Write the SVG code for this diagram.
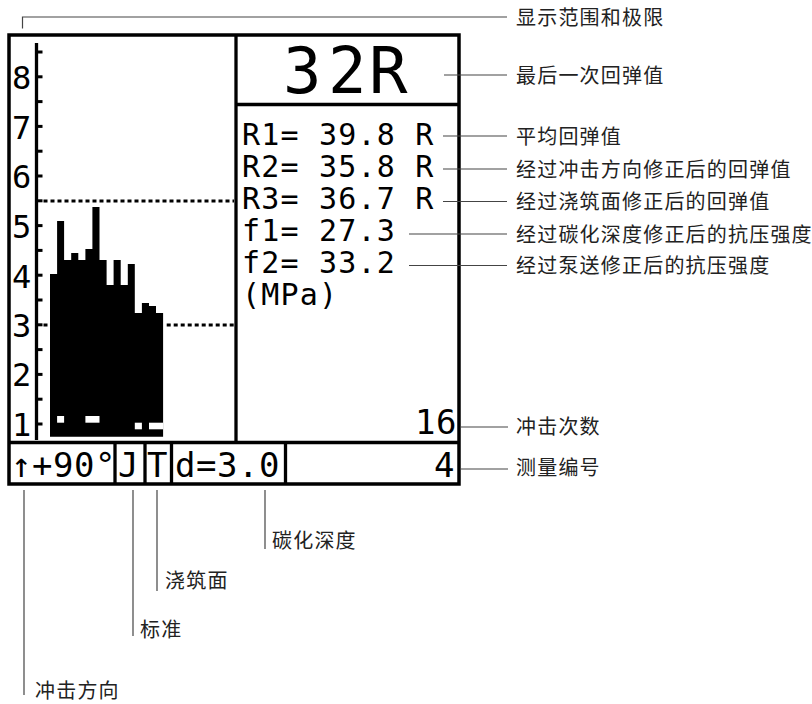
<svg xmlns="http://www.w3.org/2000/svg" width="812" height="704" viewBox="0 0 812 704">
<style>
.frame{fill:none;stroke:#000;stroke-width:3.5}
.ln{stroke:#000;stroke-width:3.3;fill:none}
.tick{fill:#000}
.dot{stroke:#000;stroke-width:3;stroke-dasharray:4 3;fill:none}
.lcd{font-family:"DejaVu Sans Mono","Liberation Mono",monospace;fill:#000}
.s{font-size:30px;letter-spacing:1.2px}
.m{font-size:34px;letter-spacing:0.5px}
.ax{font-size:32px}
.big{font-size:64px}
.lbl{font-family:"Liberation Serif","Noto Sans CJK SC",sans-serif;font-size:20px;letter-spacing:1.2px;fill:#222}
.conn{stroke:#444;stroke-width:1.2;fill:none}
</style>
<rect width="812" height="704" fill="#fff"/>

<g id="display">
  <rect class="frame" x="9" y="35" width="450" height="449"/>
  <line class="ln" x1="236" y1="35" x2="236" y2="442.5"/>
  <line class="ln" x1="236" y1="104.5" x2="459" y2="104.5"/>
  <line class="ln" x1="9" y1="442.5" x2="459" y2="442.5"/>
  <line class="ln" x1="115" y1="442.5" x2="115" y2="484"/>
  <line class="ln" x1="145" y1="442.5" x2="145" y2="484"/>
  <line class="ln" x1="171.5" y1="442.5" x2="171.5" y2="484"/>
  <line class="ln" x1="285.5" y1="442.5" x2="285.5" y2="484"/>
</g>

<g id="histogram">
  <line class="ln" x1="36.5" y1="43" x2="36.5" y2="440"/>
  <g class="tick">
    <rect x="38" y="50.5" width="4.5" height="3"/>
    <rect x="38" y="75.3" width="4.5" height="3"/>
    <rect x="38" y="100.1" width="4.5" height="3"/>
    <rect x="38" y="124.9" width="4.5" height="3"/>
    <rect x="38" y="149.7" width="4.5" height="3"/>
    <rect x="38" y="174.5" width="4.5" height="3"/>
    <rect x="38" y="199.3" width="4.5" height="3"/>
    <rect x="38" y="224.1" width="4.5" height="3"/>
    <rect x="38" y="248.9" width="4.5" height="3"/>
    <rect x="38" y="273.7" width="4.5" height="3"/>
    <rect x="38" y="298.5" width="4.5" height="3"/>
    <rect x="38" y="323.3" width="4.5" height="3"/>
    <rect x="38" y="348.1" width="4.5" height="3"/>
    <rect x="38" y="372.9" width="4.5" height="3"/>
    <rect x="38" y="397.7" width="4.5" height="3"/>
    <rect x="38" y="422.5" width="4.5" height="3"/>
  </g>
  <g class="lcd ax">
    <text x="12" y="89">8</text>
    <text x="12" y="138.5">7</text>
    <text x="12" y="187.5">6</text>
    <text x="12" y="238">5</text>
    <text x="12" y="287.5">4</text>
    <text x="12" y="337">3</text>
    <text x="12" y="386">2</text>
    <text x="12" y="436">1</text>
  </g>
  <line class="dot" x1="43.5" y1="201" x2="234" y2="201"/>
  <line class="dot" x1="43.5" y1="325" x2="50" y2="325"/>
  <line class="dot" x1="166.7" y1="325" x2="234" y2="325"/>
  <polygon fill="#000" points="50,436.7 50,274 57.1,274 57.1,221 64.1,221 64.1,260 71.2,260 71.2,253 78.3,253 78.3,260 85.4,260 85.4,249 92.4,249 92.4,207 99.5,207 99.5,260 106.6,260 106.6,285 113.6,285 113.6,260 120.7,260 120.7,285 127.8,285 127.8,264 134.8,264 134.8,313 141.9,313 141.9,303 149,303 149,306 156,306 156,313 163.1,313 163.1,436.7"/>
  <g fill="#fff">
    <rect x="57.1" y="416" width="7" height="6.7"/>
    <rect x="85.4" y="416" width="14.1" height="6.7"/>
    <rect x="134.8" y="422.7" width="7.1" height="6.6"/>
    <rect x="149" y="422.7" width="14.1" height="6.6"/>
  </g>
</g>

<g id="readings">
  <text class="lcd big" x="283 328 369" y="93">32R</text>
  <text class="lcd s" x="242" y="145">R1= 39.8 R</text>
  <text class="lcd s" x="242" y="177">R2= 35.8 R</text>
  <text class="lcd s" x="242" y="209">R3= 36.7 R</text>
  <text class="lcd s" x="242" y="241">f1= 27.3</text>
  <text class="lcd s" x="242" y="273">f2= 33.2</text>
  <text class="lcd s" x="242" y="305">(MPa)</text>
  <text class="lcd m" x="415" y="434">16</text>
</g>

<g id="status-row">
  <text class="lcd m" x="11" y="477">↑+90°</text>
  <text class="lcd m" x="118" y="477">J</text>
  <text class="lcd m" x="147" y="477">T</text>
  <text class="lcd m" x="175" y="477">d=3.0</text>
  <text class="lcd m" x="434" y="477">4</text>
</g>

<g id="connectors">
  <polyline class="conn" points="22.5,28.5 22.5,17 507,17"/>
  <line class="conn" x1="444" y1="75" x2="507" y2="75"/>
  <line class="conn" x1="443" y1="136" x2="507" y2="136"/>
  <line class="conn" x1="443" y1="169" x2="507" y2="169"/>
  <line class="conn" x1="443" y1="201.5" x2="507" y2="201.5"/>
  <line class="conn" x1="409" y1="234" x2="507" y2="234"/>
  <line class="conn" x1="409" y1="265.5" x2="507" y2="265.5"/>
  <line class="conn" x1="461" y1="427" x2="508" y2="427"/>
  <line class="conn" x1="461" y1="469" x2="508" y2="469"/>
  <line class="conn" x1="24" y1="490" x2="24" y2="695"/>
  <line class="conn" x1="133" y1="490" x2="133" y2="636"/>
  <line class="conn" x1="157" y1="490" x2="157" y2="591"/>
  <line class="conn" x1="265" y1="490" x2="265" y2="549"/>
</g>

<g id="labels">
  <text class="lbl" x="516" y="25">显示范围和极限</text>
  <text class="lbl" x="516" y="82.5">最后一次回弹值</text>
  <text class="lbl" x="516" y="143.5">平均回弹值</text>
  <text class="lbl" x="516" y="176.5">经过冲击方向修正后的回弹值</text>
  <text class="lbl" x="516" y="209">经过浇筑面修正后的回弹值</text>
  <text class="lbl" x="516" y="241.5">经过碳化深度修正后的抗压强度</text>
  <text class="lbl" x="516" y="273">经过泵送修正后的抗压强度</text>
  <text class="lbl" x="516" y="434">冲击次数</text>
  <text class="lbl" x="516" y="475">测量编号</text>
  <text class="lbl" x="272" y="547.5">碳化深度</text>
  <text class="lbl" x="165" y="587.5">浇筑面</text>
  <text class="lbl" x="140" y="636.5">标准</text>
  <text class="lbl" x="35" y="697.5">冲击方向</text>
</g>
</svg>
